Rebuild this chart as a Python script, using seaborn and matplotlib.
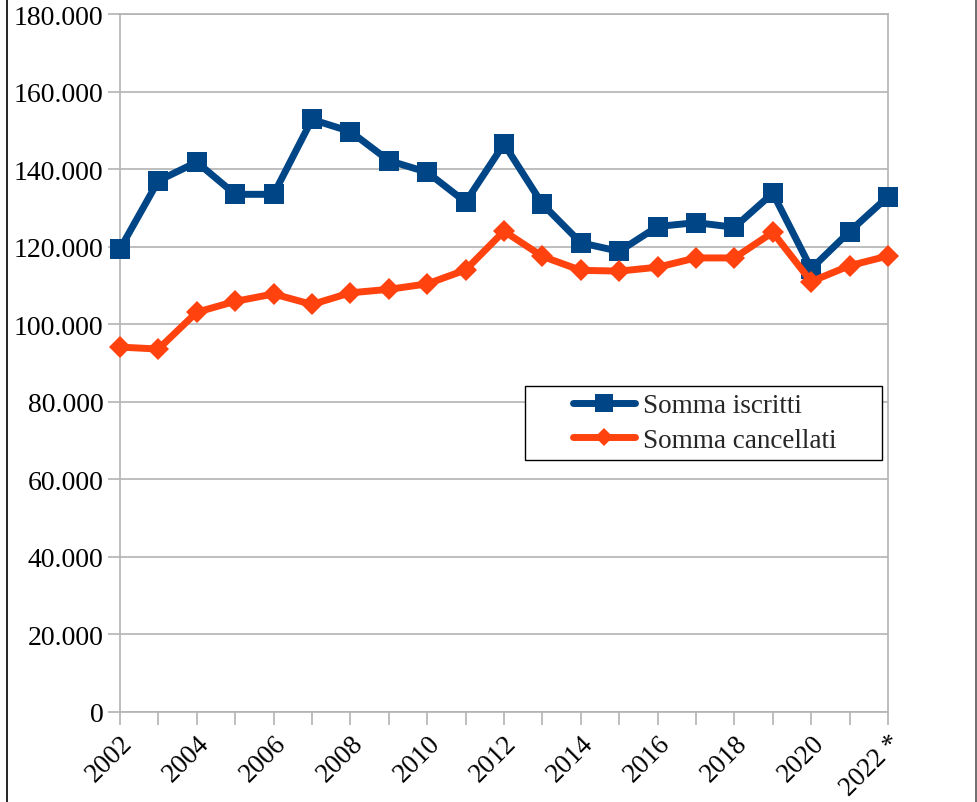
import matplotlib
matplotlib.use("Agg")
import matplotlib.pyplot as plt
import seaborn as sns
import pandas as pd
from matplotlib.lines import Line2D
from matplotlib.patches import Rectangle
from matplotlib.ticker import FuncFormatter

years = list(range(2002, 2023))
iscritti = [119400, 137000, 141800, 133500, 133500, 152800, 149700, 142200, 139200,
            131500, 146500, 131000, 121000, 118800, 125200, 126200, 125000, 133800,
            114300, 123900, 132900]
cancellati = [94100, 93600, 103100, 105900, 107800, 105100, 108100, 109000, 110400,
              114000, 124000, 117500, 113900, 113700, 114700, 117100, 117100, 123700,
              111000, 115100, 117600]
tick_years = list(range(2002, 2023, 2))
tick_labels = [str(y) for y in tick_years[:-1]] + ["2022 *"]
series_names = ["Somma iscritti", "Somma cancellati"]

df = pd.DataFrame({
    "anno": years * 2,
    "valore": iscritti + cancellati,
    "serie": [series_names[0]] * len(years) + [series_names[1]] * len(years),
})

sns.set_theme(style="white")
plt.rcParams["font.family"] = ["Liberation Serif", "DejaVu Serif"]

fig = plt.figure(figsize=(9.77, 8.03), dpi=100)
ax = fig.add_axes([0.1228, 0.1121, 0.9089 - 0.1228, 0.9813 - 0.1121])

palette = {series_names[0]: "#004586", series_names[1]: "#ff420e"}
markers = {series_names[0]: "s", series_names[1]: "D"}
sns.lineplot(data=df, x="anno", y="valore", hue="serie", style="serie",
             palette=palette, markers=markers, dashes=False, ax=ax,
             linewidth=5, markeredgewidth=0, legend=False)
for line, ms in zip(ax.lines, [14.5, 11]):
    line.set_markersize(ms)
    line.set_clip_on(False)
    line.set_zorder(5)

ax.set_xlim(2002, 2022)
ax.set_ylim(0, 180000)
ax.set_yticks(range(0, 180001, 20000))
ax.yaxis.set_major_formatter(FuncFormatter(lambda v, p: f"{int(v):,}".replace(",", ".")))
ax.set_xticks(years)
ax.set_xticklabels([tick_labels[tick_years.index(y)] if y in tick_years else "" for y in years],
                   rotation=45, ha="right", rotation_mode="anchor")
ax.grid(axis="y", color="#b3b3b3", linewidth=1.2)
ax.grid(axis="x", visible=False)
ax.set_axisbelow(True)
for s in ax.spines.values():
    s.set_color("#b3b3b3")
    s.set_linewidth(1.2)
ax.tick_params(axis="both", colors="#b3b3b3", labelcolor="black", labelsize=20,
               direction="out", length=9, width=1.2, left=True, bottom=True)
ax.tick_params(axis="x", labelsize=19.5, pad=4)
ax.tick_params(axis="y", pad=3)
ax.set_xlabel("")
ax.set_ylabel("")

# legend frame drawn separately (pixel box 525..882 x 387..461)
x0 = (525 - 120) / 768
x1 = (882 - 120) / 768
y0 = (713 - 461) / 698
y1 = (713 - 387) / 698
ax.add_patch(Rectangle((x0, y0), x1 - x0, y1 - y0, transform=ax.transAxes,
                       facecolor="white", edgecolor="black", linewidth=1.0,
                       zorder=6, clip_on=False))
handles = [Line2D([], [], color=palette[n], marker=markers[n], linewidth=5,
                  markersize=ms, markeredgewidth=0)
           for n, ms in zip(series_names, [12.5, 9.5])]
leg = ax.legend(handles, series_names, loc="upper left",
                bbox_to_anchor=((573 - 120) / 768, (713 - 394) / 698),
                fontsize=19.5, frameon=False,
                handlelength=2.3, borderpad=0, labelspacing=0.36,
                handletextpad=0.3, borderaxespad=0)
leg.set_zorder(7)

fig.add_artist(Line2D([7 / 977, 7 / 977], [0, 1], color="black", linewidth=1.2,
                      transform=fig.transFigure))
fig.add_artist(Line2D([976 / 977, 976 / 977], [0, 1], color="#555555", linewidth=1.2,
                      transform=fig.transFigure))

fig.savefig("out.png", dpi=100)
